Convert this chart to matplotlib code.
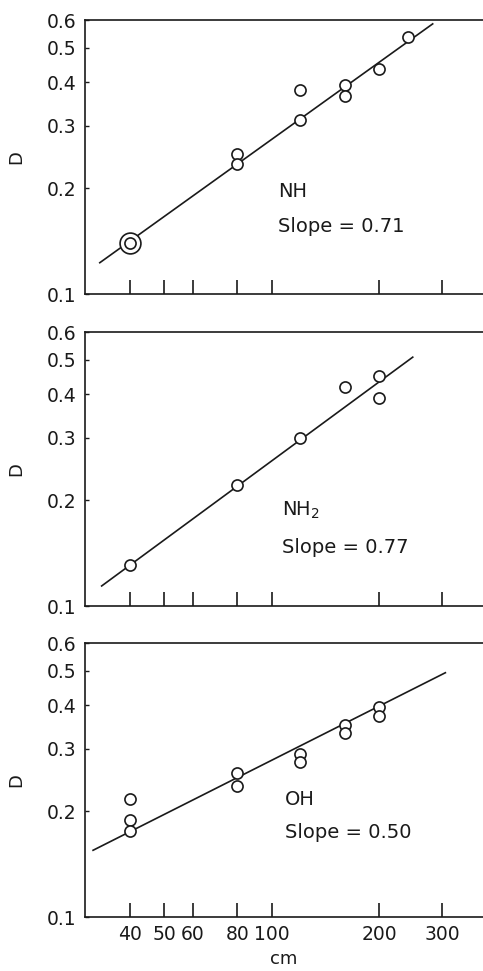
import matplotlib
matplotlib.use("Agg")
import matplotlib.pyplot as plt
from matplotlib.ticker import FixedLocator, NullLocator, NullFormatter

# -- data -------------------------------------------------------------------
nh_x = [40, 80, 80, 120, 120, 160, 160, 200, 240]
nh_d = [0.14, 0.25, 0.234, 0.38, 0.313, 0.392, 0.364, 0.436, 0.538]
nh_fit_x = [33, 282]
nh_fit_d = [0.1227, 0.585]

nh2_x = [40, 80, 120, 160, 200, 200]
nh2_d = [0.1305, 0.221, 0.30, 0.42, 0.45, 0.389]
nh2_fit_x = [33.4, 248]
nh2_fit_d = [0.114, 0.509]

oh_x = [40, 40, 40, 80, 80, 120, 120, 160, 160, 200, 200]
oh_d = [0.216, 0.188, 0.176, 0.257, 0.236, 0.29, 0.276, 0.352, 0.333, 0.395, 0.372]
oh_fit_x = [31.6, 306]
oh_fit_d = [0.1547, 0.494]

panel_names = ["NH", "NH$_2$", "OH"]
slope_labels = ["Slope = 0.71", "Slope = 0.77", "Slope = 0.50"]

x_ticks = [40, 50, 60, 80, 100, 200, 300]
x_tick_labels = ["40", "50", "60", "80", "100", "200", "300"]
y_ticks = [0.1, 0.2, 0.3, 0.4, 0.5, 0.6]
y_tick_labels = ["0.1", "0.2", "0.3", "0.4", "0.5", "0.6"]

INK = "#1a1a1a"
plt.rcParams["font.family"] = "DejaVu Sans"
plt.rcParams["mathtext.fontset"] = "dejavusans"

fig = plt.figure(figsize=(4.83, 9.71), dpi=100)

W, H = 483.0, 971.0
left = 85 / W
# (top px, bottom px) of each panel
rows = [(20, 294), (332, 606), (643, 917)]
# label anchors: (x, name y, slope y) in data coords
label_pos = [(104, 0.195, 0.155), (107, 0.187, 0.147), (109, 0.215, 0.174)]

series = [
    (nh_x, nh_d, nh_fit_x, nh_fit_d),
    (nh2_x, nh2_d, nh2_fit_x, nh2_fit_d),
    (oh_x, oh_d, oh_fit_x, oh_fit_d),
]

for i, ((top_px, bot_px), (xs, ds, fx, fd)) in enumerate(zip(rows, series)):
    ax = fig.add_axes([left, 1 - bot_px / H, 1 - left, (bot_px - top_px) / H])
    ax.set_xscale("log")
    ax.set_yscale("log")
    ax.set_xlim(30, 390)
    ax.set_ylim(0.1, 0.6)

    ax.plot(fx, fd, color=INK, lw=1.2, zorder=2)
    ax.plot(xs, ds, "o", ms=8, mfc="white", mec=INK, mew=1.2, zorder=3)
    if i == 0:
        # ringed point at 40 cm
        ax.plot(xs[:1], ds[:1], "o", ms=15, mfc="white", mec=INK, mew=1.2, zorder=3)
        ax.plot(xs[:1], ds[:1], "o", ms=8, mfc="white", mec=INK, mew=1.2, zorder=4)

    lx, ny, sy = label_pos[i]
    ax.text(lx, ny, panel_names[i], fontsize=14, color=INK, va="center", ha="left")
    ax.text(lx, sy, slope_labels[i], fontsize=14, color=INK, va="center", ha="left")

    ax.spines["right"].set_visible(False)
    for s in ("left", "top", "bottom"):
        ax.spines[s].set_color(INK)
        ax.spines[s].set_linewidth(1.2)

    ax.xaxis.set_major_locator(FixedLocator(x_ticks))
    ax.xaxis.set_minor_locator(NullLocator())
    ax.xaxis.set_minor_formatter(NullFormatter())
    if i == 2:
        ax.set_xticklabels(x_tick_labels)
        ax.set_xlabel("cm", fontsize=13, color=INK, labelpad=4)
    else:
        ax.set_xticklabels([])
    ax.tick_params(axis="x", which="major", direction="in", length=10, width=1.2,
                   color=INK, labelsize=13.5, labelcolor=INK, pad=6, top=False)

    ax.yaxis.set_major_locator(FixedLocator(y_ticks))
    ax.yaxis.set_minor_locator(NullLocator())
    ax.yaxis.set_minor_formatter(NullFormatter())
    ax.set_yticklabels(y_tick_labels)
    ax.tick_params(axis="y", which="major", direction="in", length=3, width=1.0,
                   color=INK, labelsize=13.5, labelcolor=INK, pad=6)

    ax.set_ylabel("D", fontsize=13, color=INK)
    ax.yaxis.set_label_coords(-(85 - 25) / 398.0, 0.5)

fig.savefig("out.png", dpi=100)
